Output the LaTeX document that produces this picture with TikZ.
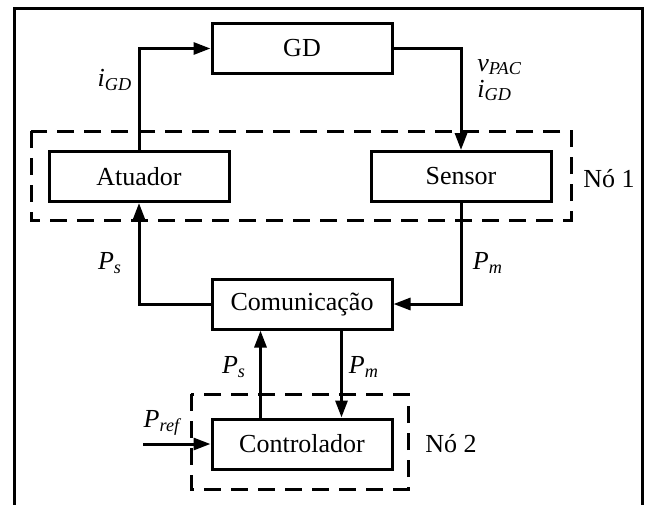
\documentclass[tikz,border=0pt]{standalone}
\usepackage{fontspec}
\setmainfont{Liberation Serif}
\usetikzlibrary{arrows.meta,positioning}

\newcommand{\sig}[2]{\textit{#1}\textsubscript{\textit{#2}}}

\begin{document}
\begin{tikzpicture}[
  x=0.5pt, y=-0.5pt,
  block/.style={rectangle, draw, line width=1.5pt, minimum width=90pt,
                minimum height=25pt, font=\fontsize{13}{15}\selectfont},
  link/.style={line width=1.5pt, -{Triangle[length=8.5pt,width=6pt]}},
  wire/.style={line width=1.5pt},
  group/.style={line width=1.5pt, dash pattern=on 8.5pt off 5pt},
  lbl/.style={font=\fontsize{13}{15}\selectfont, inner sep=0pt},
]
  \useasboundingbox (0,0) rectangle (646,504);

  % Outer frame
  \draw[wire] (14,510) |- (642,8) -- (642,510);

  % Blocks
  \node[block] (gd)   at (302,48.5) {GD};
  \node[block] (atu)  at (139,176.5) {Atuador};
  \node[block] (sen)  at (461,176.5) {Sensor};
  \node[block] (com)  at (302,304) {Comunicação};
  \node[block] (ctrl) at (302,444) {Controlador};
  \coordinate (pref) at (143,444);

  % Node groups
  \draw[group] (31,131) rectangle (571,220);
  \draw[group] (191,394) rectangle (408,489);
  \node[lbl] (no1) at (609,179) {Nó 1};
  \node[lbl] (no2) at (451,444) {Nó 2};

  % Signals
  \draw[link] (atu.north) |- (gd.west);
  \draw[link] (gd.east) -| (sen.north);
  \draw[link] (sen.south) |- (com.east);
  \draw[link] (com.west) -| (atu.south);
  \draw[link] ([xshift=25pt]ctrl.north west) -- ([xshift=25pt]com.south west);
  \draw[link] ([xshift=-26pt]com.south east) -- ([xshift=-26pt]ctrl.north east);
  \draw[link] (pref) -- (ctrl.west);

  % Labels
  \node[lbl] (igd1) at (115,80) {\sig{i}{GD}};
  \node[lbl, anchor=base west] (vpac) at (477,71) {\sig{v}{PAC}};
  \node[lbl, anchor=base west] (igd2) at (477,97) {\sig{i}{GD}};
  \node[lbl] (ps1) at (110,263) {\sig{P}{s}};
  \node[lbl] (pm1) at (488,263) {\sig{P}{m}};
  \node[lbl] (ps2) at (234,367) {\sig{P}{s}};
  \node[lbl] (pm2) at (364,367) {\sig{P}{m}};
  \node[lbl] (pr)  at (163,423) {\sig{P}{ref}};
\end{tikzpicture}
\end{document}
